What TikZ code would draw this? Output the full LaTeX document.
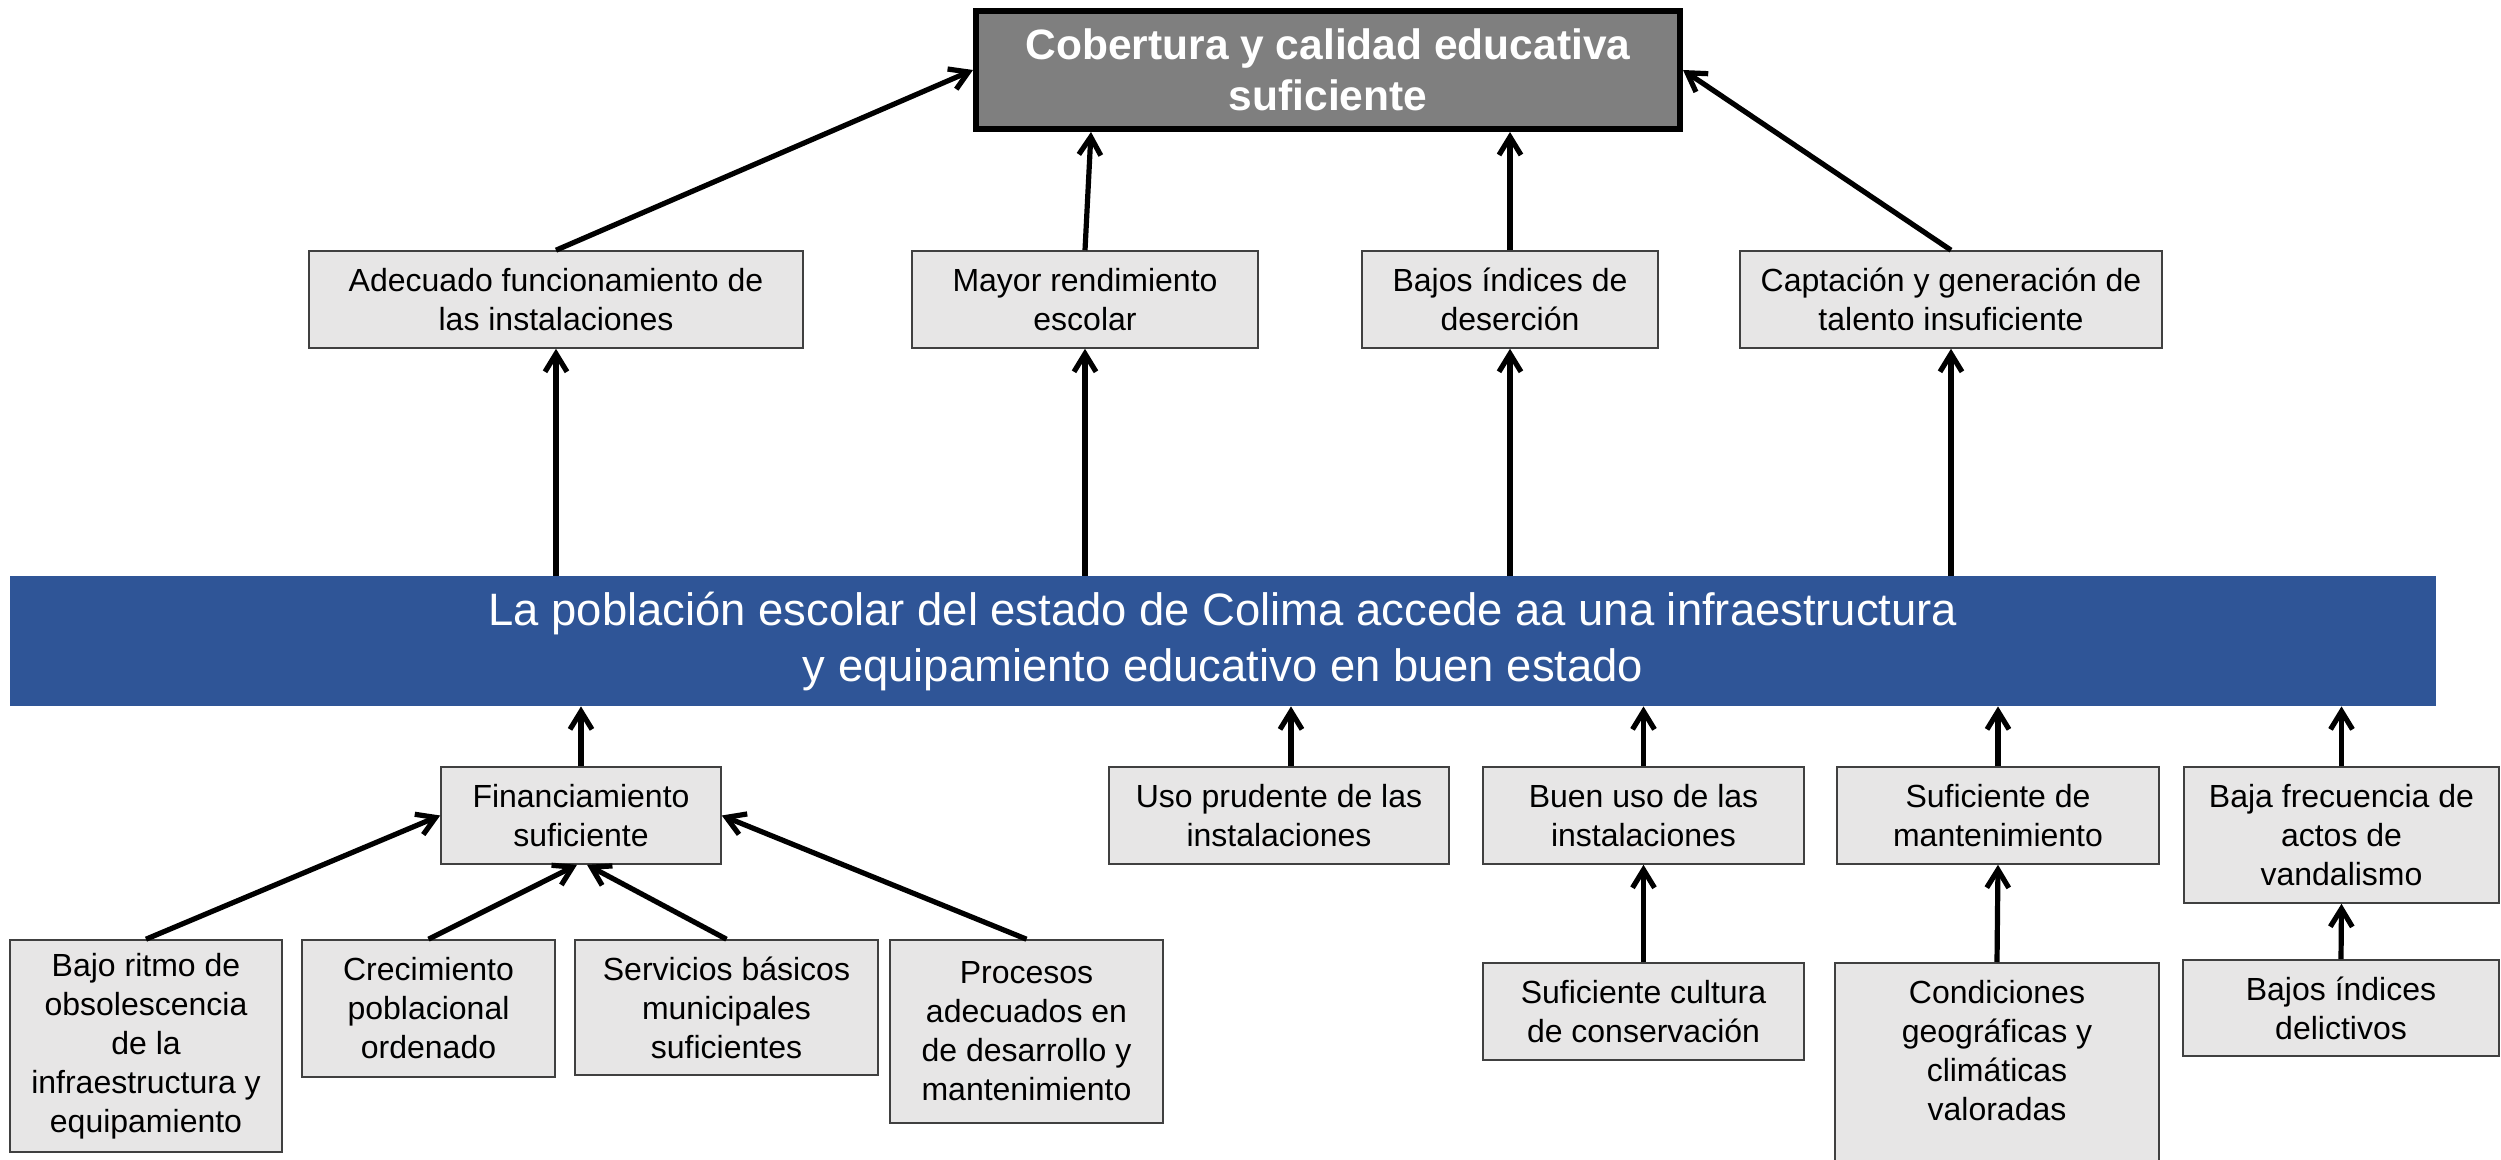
\documentclass[tikz,border=0pt]{standalone}
\usepackage{fontspec}
\setmainfont{Liberation Sans}
\usetikzlibrary{arrows.meta,calc}
\definecolor{barblue}{RGB}{47,85,151}
\definecolor{boxfill}{RGB}{231,230,230}
\definecolor{boxline}{RGB}{64,64,64}
\definecolor{topfill}{RGB}{127,127,127}
\begin{document}
\begin{tikzpicture}[x=0.5pt,y=-0.5pt,
  boxbase/.style={draw=boxline,fill=boxfill,line width=0.8pt,inner sep=0pt,font=\fontsize{16}{19.5}\selectfont},
  box/.style={boxbase,align=center},
  arr/.style={line width=2.6pt,-{Straight Barb[length=9pt,width=11pt]}}]
\useasboundingbox (0,0) rectangle (2501,1160);

% top goal
\node[draw=black,line width=3pt,fill=topfill,text=white,align=center,inner sep=0pt,
      minimum width=352pt,minimum height=59pt,
      font=\fontsize{21.25}{25.5}\selectfont\bfseries] (top) at (1328,70)
      {Cobertura y calidad educativa\\suficiente};

% effects
\node[box,minimum width=247pt,minimum height=48.5pt] (A) at (556,299.5) {Adecuado funcionamiento de\\las instalaciones};
\node[box,minimum width=173pt,minimum height=48.5pt] (B) at (1085,299.5) {Mayor rendimiento\\escolar};
\node[box,minimum width=148pt,minimum height=48.5pt] (C) at (1510,299.5) {Bajos índices de\\deserción};
\node[box,minimum width=211pt,minimum height=48.5pt] (D) at (1951,299.5) {Captación y generación de\\talento insuficiente};

% central bar
\node[fill=barblue,text=white,align=center,inner sep=0pt,minimum width=1213pt,minimum height=65pt,
      font=\fontsize{22.7}{28}\selectfont] (bar) at (1223,641)
      {La población escolar del estado de Colima accede aa una infraestructura\\y equipamiento educativo en buen estado};

% causes level 1
\node[box,minimum width=140pt,minimum height=48.5pt] (Fin) at (581,815.5) {Financiamiento\\suficiente};
\node[box,minimum width=170pt,minimum height=48.5pt] (Uso) at (1279,815.5) {Uso prudente de las\\instalaciones};
\node[box,minimum width=160.5pt,minimum height=48.5pt] (Buen) at (1643.5,815.5) {Buen uso de las\\instalaciones};
\node[box,minimum width=161pt,minimum height=48.5pt] (SufM) at (1998,815.5) {Suficiente de\\mantenimiento};
\node[box,minimum width=157.5pt,minimum height=68pt] (Baja) at (2341.5,835) {Baja frecuencia de\\actos de\\vandalismo};

% causes level 2
\node[box,minimum width=136pt,minimum height=106pt] (Bajo) at (146,1046) {Bajo ritmo de\\obsolescencia\\de la\\infraestructura y\\equipamiento};
\node[box,minimum width=126.5pt,minimum height=68.5pt] (Crec) at (428.5,1008.5) {Crecimiento\\poblacional\\ordenado};
\node[box,minimum width=151.5pt,minimum height=67.5pt] (Serv) at (726.5,1007.5) {Servicios básicos\\municipales\\suficientes};
\node[box,minimum width=136.5pt,minimum height=91.5pt] (Proc) at (1026.5,1031.5) {Procesos\\adecuados en\\de desarrollo y\\mantenimiento};
\node[box,minimum width=160.5pt,minimum height=48.5pt] (Cult) at (1643.5,1011.5) {Suficiente cultura\\de conservación};
\node[boxbase,anchor=north,minimum width=162pt,minimum height=102pt] (Cond) at (1997,962)
      {\parbox[c][100pt][t]{158pt}{\centering\vspace*{7.7pt}Condiciones\\geográficas y\\climáticas\\valoradas}};
\node[box,minimum width=158pt,minimum height=48pt] (Del) at (2341,1008) {Bajos índices\\delictivos};

% effects -> goal
\draw[arr] (A.north) -- (top.west);
\draw[arr] (B.north) -- ($(top.south -| B.north)+(6,0)$);
\draw[arr] (C.north) -- (top.south -| C.north);
\draw[arr] (D.north) -- (top.east);

% bar -> effects
\draw[arr] (bar.north -| A.south) -- (A.south);
\draw[arr] (bar.north -| B.south) -- (B.south);
\draw[arr] (bar.north -| C.south) -- (C.south);
\draw[arr] (bar.north -| D.south) -- (D.south);

% causes -> bar
\draw[arr] (Fin.north) -- (bar.south -| Fin.north);
\draw[arr] ($(Uso.north)+(12,0)$) -- ($(bar.south -| Uso.north)+(12,0)$);
\draw[arr] (Buen.north) -- (bar.south -| Buen.north);
\draw[arr] (SufM.north) -- (bar.south -| SufM.north);
\draw[arr] (Baja.north) -- (bar.south -| Baja.north);

% sub-causes
\draw[arr] (Bajo.north) -- (Fin.west);
\draw[arr] (Crec.north) -- ($(Fin.south)+(-4,0)$);
\draw[arr] (Serv.north) -- ($(Fin.south)+(6,0)$);
\draw[arr] (Proc.north) -- (Fin.east);
\draw[arr] (Cult.north) -- (Buen.south);
\draw[arr] (Cond.north) -- (SufM.south);
\draw[arr] (Del.north) -- (Baja.south);
\end{tikzpicture}
\end{document}
